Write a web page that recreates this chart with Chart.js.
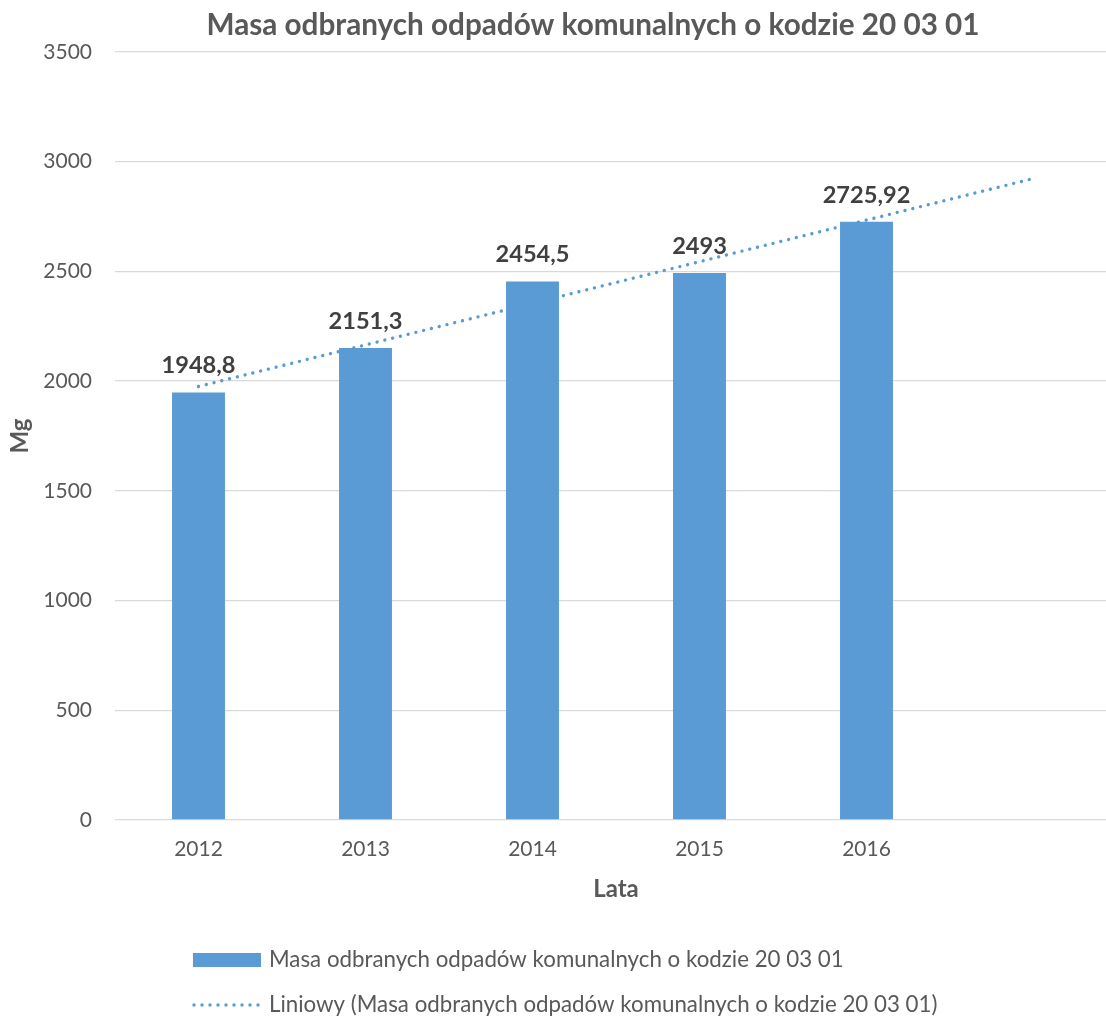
<!DOCTYPE html>
<html>
<head>
<meta charset="utf-8">
<script src="https://cdn.jsdelivr.net/npm/chart.js@4/dist/chart.umd.min.js"></script>
<style>
  html, body { margin: 0; padding: 0; background: #ffffff; }
  #wrap { position: relative; width: 1106px; height: 1017px; overflow: hidden; }
  #c { position: absolute; left: 0; top: 0; }
</style>
</head>
<body>
<div id="wrap"><canvas id="c" width="1117" height="1017"></canvas></div>
<script>
// ---- data ----
const categories = ['2012', '2013', '2014', '2015', '2016', ''];
const masaValues = [1948.8, 2151.3, 2454.5, 2493, 2725.92, null];
const trendValues = [1975.5, 2165.1, 2354.7, 2544.3, 2733.9, 2923.5];
const titleText = 'Masa odbranych odpadów komunalnych o kodzie 20 03 01';
const seriesLabel = 'Masa odbranych odpadów komunalnych o kodzie 20 03 01';
const trendLabel = 'Liniowy (Masa odbranych odpadów komunalnych o kodzie 20 03 01)';
const yAxisTitle = 'Mg';
const xAxisTitle = 'Lata';
const yTicks = { min: 0, max: 3500, step: 500 };

const BLUE = '#5B9BD5';
const TEXT = '#595959';
const FONT = 'Lato, "Open Sans", sans-serif';

const titlePlugin = {
  id: 'fixedTitle',
  afterDraw(chart) {
    const ctx = chart.ctx;
    ctx.save();
    ctx.font = 'bold 29.7px ' + FONT;
    ctx.fillStyle = TEXT;
    ctx.textAlign = 'center';
    ctx.textBaseline = 'alphabetic';
    ctx.fillText(titleText, 593, 35);
    ctx.restore();
  }
};

const dataLabelPlugin = {
  id: 'barLabels',
  afterDatasetsDraw(chart) {
    const ctx = chart.ctx;
    const meta = chart.getDatasetMeta(0);
    const ds = chart.data.datasets[0];
    ctx.save();
    ctx.font = 'bold 23.6px ' + FONT;
    ctx.fillStyle = '#404040';
    ctx.textAlign = 'center';
    ctx.textBaseline = 'alphabetic';
    meta.data.forEach((bar, i) => {
      const v = ds.data[i];
      if (v === null || v === undefined) return;
      ctx.fillText(String(v).replace('.', ','), bar.x, bar.y - 19);
    });
    ctx.restore();
  }
};

const legendPlugin = {
  id: 'customLegend',
  afterDraw(chart) {
    const ctx = chart.ctx;
    const ds = chart.data.datasets;
    ctx.save();
    ctx.font = '22.3px ' + FONT;
    ctx.fillStyle = TEXT;
    ctx.textAlign = 'left';
    ctx.textBaseline = 'alphabetic';
    // row 1: bar swatch
    ctx.fillStyle = ds[0].backgroundColor;
    ctx.fillRect(193, 953, 68, 14);
    ctx.fillStyle = TEXT;
    ctx.fillText(ds[0].label, 269, 967);
    // row 2: dotted line
    ctx.strokeStyle = ds[1].borderColor;
    ctx.lineWidth = ds[1].borderWidth;
    ctx.lineCap = 'round';
    ctx.setLineDash(ds[1].borderDash);
    ctx.beginPath();
    ctx.moveTo(194, 1005);
    ctx.lineTo(261, 1005);
    ctx.stroke();
    ctx.setLineDash([]);
    ctx.fillText(ds[1].label, 269, 1012);
    ctx.restore();
  }
};

new Chart(document.getElementById('c'), {
  data: {
    labels: categories,
    datasets: [
      {
        type: 'bar',
        label: seriesLabel,
        data: masaValues,
        backgroundColor: BLUE,
        borderWidth: 0,
        barPercentage: 0.317,
        categoryPercentage: 1.0,
        order: 1
      },
      {
        type: 'line',
        label: trendLabel,
        data: trendValues,
        borderColor: BLUE,
        borderWidth: 3.4,
        borderDash: [0.001, 8],
        borderCapStyle: 'round',
        pointRadius: 0,
        fill: false,
        tension: 0,
        order: 0
      }
    ]
  },
  options: {
    responsive: false,
    animation: false,
    events: [],
    layout: { padding: { top: 52, left: 0, right: 0, bottom: 97 } },
    plugins: {
      legend: { display: false },
      title: { display: false },
      tooltip: { enabled: false }
    },
    scales: {
      x: {
        grid: { display: false, drawTicks: false },
        border: { display: false },
        ticks: {
          color: TEXT,
          font: { family: FONT, size: 21 },
          padding: 17,
          maxRotation: 0,
          autoSkip: false
        },
        title: {
          display: true,
          text: xAxisTitle,
          color: TEXT,
          font: { family: FONT, size: 24, weight: 'bold', lineHeight: 1.2 },
          padding: { top: 0, bottom: 16.6 }
        },
        afterFit(scale) { scale.height = 100; }
      },
      y: {
        min: yTicks.min,
        max: yTicks.max,
        grid: { color: '#D9D9D9', lineWidth: 1.3, drawTicks: false },
        border: { display: false },
        ticks: {
          stepSize: yTicks.step,
          color: TEXT,
          font: { family: FONT, size: 21 },
          padding: 23,
          callback: (v) => String(v)
        },
        title: {
          display: true,
          text: yAxisTitle,
          color: TEXT,
          font: { family: FONT, size: 24, weight: 'bold', lineHeight: 1.2 },
          padding: { top: 5.6, bottom: 0 }
        },
        afterFit(scale) { scale.width = 115; }
      }
    }
  },
  plugins: [titlePlugin, dataLabelPlugin, legendPlugin]
});
</script>
</body>
</html>
